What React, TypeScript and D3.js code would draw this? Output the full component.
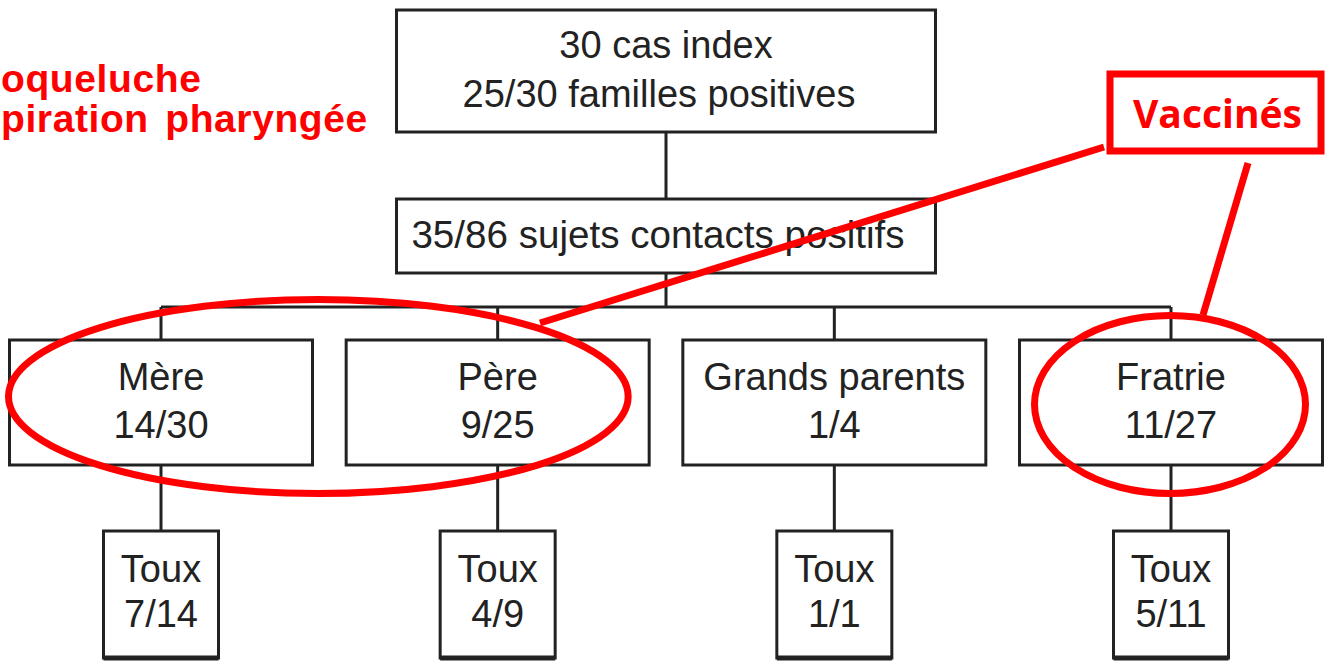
import { useMemo } from 'react'
import * as d3 from 'd3'

// diagram contents (left title is cropped in the source)
const rootLines = ['30 cas index', '25/30 familles positives']
const contactLine = '35/86 sujets contacts positifs'
const groups = ['Mère', 'Père', 'Grands parents', 'Fratrie']
const positives = ['14/30', '9/25', '1/4', '11/27']
const coughLabel = 'Toux'
const cough = ['7/14', '4/9', '1/1', '5/11']
const vaccinatedGroups = [['Mère', 'Père'], ['Fratrie']]
const annotation = 'Vaccinés'
const titleLines = ['oqueluche', 'piration pharyngée']

const SIZE = { width: 1325, height: 663 }

const LAYOUT = {
  colLeft: 161,
  colRight: 1171,
  root: { top: 10, height: 122, width: 539 },
  contact: { top: 199, height: 74 },
  branchY: 307,
  group: { top: 340, height: 125, width: 303 },
  leaf: { top: 531, height: 127, width: 115 },
}

const INK = '#222'
const RED = '#f00'
const FONT = '"Liberation Sans", Arial, sans-serif'

export default function App() {
  const x = useMemo(
    () => d3.scalePoint<string>().domain(groups).range([LAYOUT.colLeft, LAYOUT.colRight]),
    []
  )
  const midX = (LAYOUT.colLeft + LAYOUT.colRight) / 2
  const rootX = midX - LAYOUT.root.width / 2
  const g = LAYOUT.group
  const l = LAYOUT.leaf

  // red ellipses around the vaccinated groups
  const ellipses = vaccinatedGroups.map((members) => {
    const left = d3.min(members, (m) => (x(m) || 0) - g.width / 2) || 0
    const right = d3.max(members, (m) => (x(m) || 0) + g.width / 2) || 0
    const multi = members.length > 1
    return {
      key: members.join('-'),
      cx: (left + right) / 2 - (multi ? 11 : 1),
      cy: g.top + g.height / 2 + (multi ? -6 : 2),
      rx: (right - left) / 2 - (multi ? 10 : 16),
      ry: multi ? 97 : 89,
    }
  })

  const vBox = { x: 1110, y: 74, w: 211, h: 77 }

  return (
    <svg
      width={SIZE.width}
      height={SIZE.height}
      viewBox={`0 0 ${SIZE.width} ${SIZE.height}`}
      style={{ position: 'absolute', left: 0, top: 0, background: '#fff' }}
    >
      <g fontFamily={FONT} fontSize={38} fill={INK} textAnchor="middle">
        {/* root box */}
        <rect
          x={rootX}
          y={LAYOUT.root.top}
          width={LAYOUT.root.width}
          height={LAYOUT.root.height}
          fill="#fff"
          stroke={INK}
          strokeWidth={3}
        />
        <text x={midX} y={58}>{rootLines[0]}</text>
        <text x={midX - 7} y={107}>{rootLines[1]}</text>

        <line
          x1={midX}
          x2={midX}
          y1={LAYOUT.root.top + LAYOUT.root.height}
          y2={LAYOUT.contact.top}
          stroke={INK}
          strokeWidth={3}
        />

        {/* contacts box */}
        <rect
          x={rootX}
          y={LAYOUT.contact.top}
          width={LAYOUT.root.width}
          height={LAYOUT.contact.height}
          fill="#fff"
          stroke={INK}
          strokeWidth={3}
        />
        <text x={midX - 8} y={248} fontSize={38.6}>{contactLine}</text>

        <line
          x1={midX}
          x2={midX}
          y1={LAYOUT.contact.top + LAYOUT.contact.height}
          y2={LAYOUT.branchY}
          stroke={INK}
          strokeWidth={3}
        />
        <line
          x1={LAYOUT.colLeft}
          x2={LAYOUT.colRight}
          y1={LAYOUT.branchY}
          y2={LAYOUT.branchY}
          stroke={INK}
          strokeWidth={3}
        />

        {groups.map((name, i) => {
          const cx = x(name) || 0
          return (
            <g key={name}>
              <line x1={cx} x2={cx} y1={LAYOUT.branchY} y2={g.top} stroke={INK} strokeWidth={3} />
              <rect
                x={cx - g.width / 2}
                y={g.top}
                width={g.width}
                height={g.height}
                fill="#fff"
                stroke={INK}
                strokeWidth={3}
              />
              <text x={cx} y={390}>{name}</text>
              <text x={cx} y={438}>{positives[i]}</text>

              <line x1={cx} x2={cx} y1={g.top + g.height} y2={l.top} stroke={INK} strokeWidth={3} />
              <rect
                x={cx - l.width / 2}
                y={l.top}
                width={l.width}
                height={l.height}
                fill="#fff"
                stroke={INK}
                strokeWidth={3}
              />
              <line
                x1={cx - l.width / 2}
                x2={cx + l.width / 2}
                y1={l.top + l.height}
                y2={l.top + l.height}
                stroke={INK}
                strokeWidth={5}
              />
              <text x={cx} y={582}>{coughLabel}</text>
              <text x={cx} y={627}>{cough[i]}</text>
            </g>
          )
        })}
      </g>

      {/* red annotations */}
      <g fill="none" stroke={RED} strokeWidth={7}>
        {ellipses.map((e) => (
          <ellipse key={e.key} cx={e.cx} cy={e.cy} rx={e.rx} ry={e.ry} />
        ))}
        <rect x={vBox.x} y={vBox.y} width={vBox.w} height={vBox.h} />
        <line x1={1104} y1={147} x2={540} y2={323} />
        <line x1={1248} y1={163} x2={1203} y2={315} />
      </g>
      <text
        x={vBox.x + vBox.w / 2 + 2}
        y={128}
        textAnchor="middle"
        fontFamily='"Open Sans", sans-serif'
        fontWeight={700}
        fontSize={39}
        fill={RED}
      >
        {annotation}
      </text>

      <g fontFamily={FONT} fontWeight={700} fontSize={39} fill={RED} letterSpacing={0.6}>
        <text x={1} y={92}>{titleLines[0]}</text>
        <text x={1} y={132} wordSpacing={5}>{titleLines[1]}</text>
      </g>
    </svg>
  )
}
